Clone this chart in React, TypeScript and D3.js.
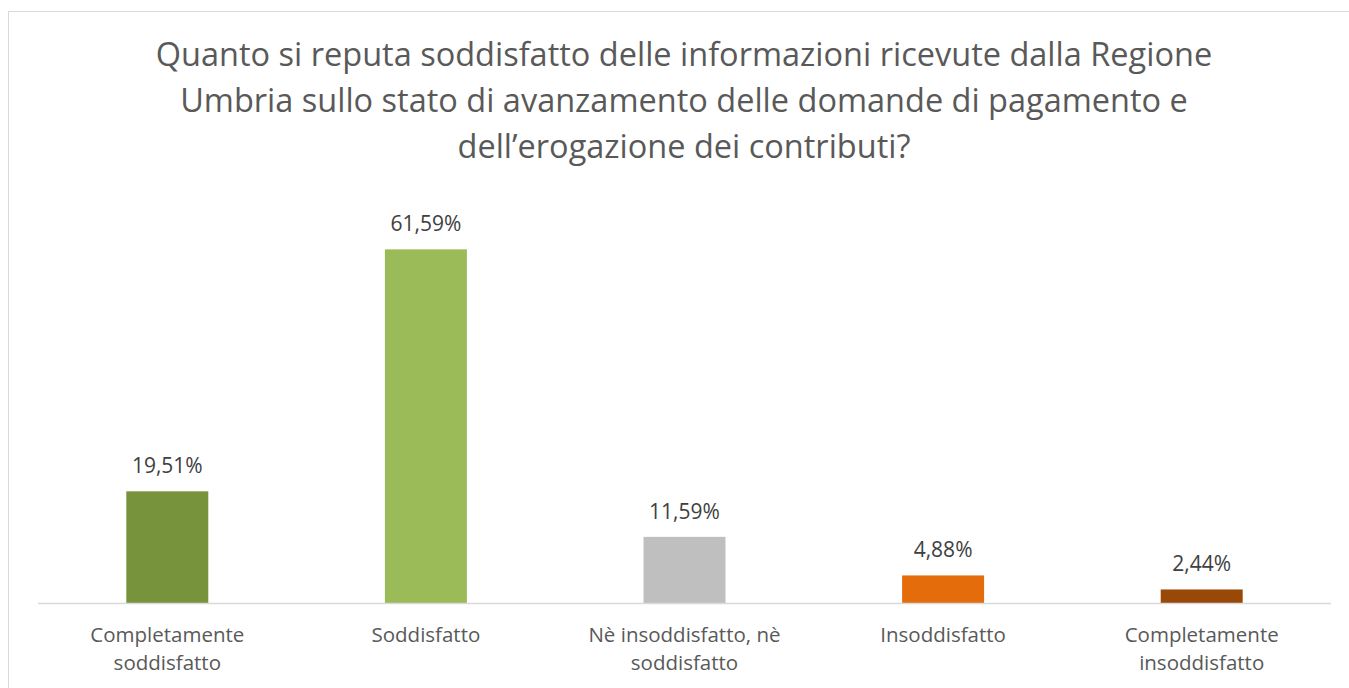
import React from "react";
import * as d3 from "d3";

const titleLines = [
  "Quanto si reputa soddisfatto delle informazioni ricevute dalla Regione",
  "Umbria sullo stato di avanzamento delle domande di pagamento e",
  "dell’erogazione dei contributi?",
];
const categories = [
  ["Completamente", "soddisfatto"],
  ["Soddisfatto"],
  ["Nè insoddisfatto, nè", "soddisfatto"],
  ["Insoddisfatto"],
  ["Completamente", "insoddisfatto"],
];
const values = [19.51, 61.59, 11.59, 4.88, 2.44];
const valueLabels = ["19,51%", "61,59%", "11,59%", "4,88%", "2,44%"];
const colors = ["#77933C", "#9BBB59", "#BFBFBF", "#E46C0A", "#984807"];

const W = 1349;
const H = 688;
const FONT = "'Open Sans', sans-serif";

export default function App() {
  const x = d3
    .scaleBand<number>()
    .domain(d3.range(values.length))
    .range([38, 1331])
    .paddingInner(0.683)
    .paddingOuter(0.3415);
  const y = d3.scaleLinear().domain([0, 70]).range([603.5, 201]);

  return (
    <svg
      width={W}
      height={H}
      style={{ position: "absolute", left: 0, top: 0 }}
    >
      <rect x={0} y={0} width={W} height={H} fill="#fff" />
      <rect
        x={8.5}
        y={11.5}
        width={W + 10}
        height={H + 10}
        fill="#fff"
        stroke="#D9D9D9"
        strokeWidth={1}
      />
      {titleLines.map((t, i) => (
        <text
          key={i}
          x={684}
          y={66 + i * 46}
          textAnchor="middle"
          fontFamily={FONT}
          fontSize={32.5}
          fill="#595959"
        >
          {t}
        </text>
      ))}
      {values.map((v, i) => (
        <g key={i}>
          <rect
            x={x(i)}
            y={y(v)}
            width={x.bandwidth()}
            height={y(0) - y(v)}
            fill={colors[i]}
          />
          <text
            x={x(i)! + x.bandwidth() / 2}
            y={y(v) - 18}
            textAnchor="middle"
            fontFamily={FONT}
            fontSize={21}
            fill="#404040"
          >
            {valueLabels[i]}
          </text>
          {categories[i].map((line, j) => (
            <text
              key={j}
              x={x(i)! + x.bandwidth() / 2}
              y={642 + j * 28}
              textAnchor="middle"
              fontFamily={FONT}
              fontSize={20.5}
              fill="#595959"
            >
              {line}
            </text>
          ))}
        </g>
      ))}
      <line
        x1={38}
        x2={1331}
        y1={603.5}
        y2={603.5}
        stroke="#D9D9D9"
        strokeWidth={1.5}
      />
    </svg>
  );
}
